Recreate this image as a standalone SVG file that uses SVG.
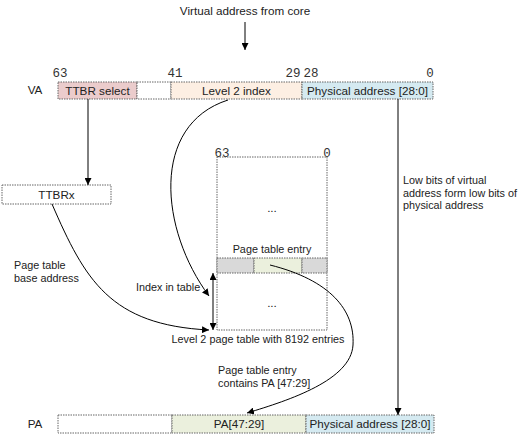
<svg xmlns="http://www.w3.org/2000/svg" width="526" height="437" viewBox="0 0 526 437">
<style>
text{font-family:"Liberation Sans",Arial,sans-serif;font-size:11.7px;fill:#222}
.sm{font-size:10.8px}
.num{font-family:"Liberation Mono","DejaVu Sans Mono",monospace;font-size:12.5px;fill:#333}
.box{stroke:#666;stroke-width:1;stroke-dasharray:1.5,1}
.ln{fill:none;stroke:#000;stroke-width:1}
</style>
<defs>
<marker id="ah" viewBox="0 0 10 10" refX="10" refY="5" markerWidth="7" markerHeight="7" orient="auto-start-reverse" markerUnits="userSpaceOnUse">
<path d="M0,0 L10,5 L0,10 z" fill="#000"/>
</marker>
</defs>
<rect width="526" height="437" fill="#fff"/>
<text x="245" y="15" text-anchor="middle">Virtual address from core</text>

<g id="va">
<text x="35" y="94" text-anchor="middle">VA</text>
<text class="num" x="60" y="77" text-anchor="middle">63</text>
<text class="num" x="175" y="77" text-anchor="middle">41</text>
<text class="num" x="293" y="77" text-anchor="middle">29</text>
<text class="num" x="311" y="77" text-anchor="middle">28</text>
<text class="num" x="430" y="77" text-anchor="middle">0</text>
<rect class="box" x="58" y="82" width="79" height="17" fill="#ebcccc"/>
<rect class="box" x="137" y="82" width="34" height="17" fill="#fff"/>
<rect class="box" x="171" y="82" width="131" height="17" fill="#fdefe3"/>
<rect class="box" x="302" y="82" width="131" height="17" fill="#d5eaf1"/>
<text x="97.5" y="95" text-anchor="middle">TTBR select</text>
<text x="236.5" y="95" text-anchor="middle">Level 2 index</text>
<text x="367.5" y="95" text-anchor="middle">Physical address [28:0]</text>
</g>

<g id="ttbrx">
<rect class="box" x="2" y="185" width="109" height="19" fill="#fff"/>
<text x="56.5" y="198.5" text-anchor="middle">TTBRx</text>
</g>

<g id="table">
<text class="num" x="222" y="157" text-anchor="middle">63</text>
<text class="num" x="327" y="157" text-anchor="middle">0</text>
<rect class="box" x="217" y="157" width="110" height="173" fill="#fff"/>
<text x="272" y="212" text-anchor="middle">...</text>
<text class="sm" x="272" y="253" text-anchor="middle">Page table entry</text>
<rect class="box" x="217" y="258" width="37" height="15" fill="#d9d9d9"/>
<rect class="box" x="254" y="258" width="48" height="15" fill="#ebf0dd"/>
<rect class="box" x="302" y="258" width="25" height="15" fill="#d9d9d9"/>
<text x="272" y="307" text-anchor="middle">...</text>
<text class="sm" x="258" y="343" text-anchor="middle">Level 2 page table with 8192 entries</text>
</g>

<g id="pa">
<text x="35" y="428" text-anchor="middle">PA</text>
<rect class="box" x="58" y="415" width="114" height="18" fill="#fff"/>
<rect class="box" x="172" y="415" width="134" height="18" fill="#ebf0dd"/>
<rect class="box" x="306" y="415" width="128" height="18" fill="#d5eaf1"/>
<text x="239" y="428" text-anchor="middle">PA[47:29]</text>
<text x="370" y="428" text-anchor="middle">Physical address [28:0]</text>
</g>

<g id="labels" class="sm">
<text class="sm" x="403" y="184">Low bits of virtual</text>
<text class="sm" x="403" y="197">address form low bits of</text>
<text class="sm" x="403" y="209">physical address</text>
<text class="sm" x="14" y="269">Page table</text>
<text class="sm" x="14" y="282">base address</text>
<text class="sm" x="136" y="291">Index in table</text>
<text class="sm" x="218" y="374">Page table entry</text>
<text class="sm" x="218" y="387">contains PA [47:29]</text>
</g>

<g id="connectors">
<line class="ln" x1="245" y1="22" x2="245" y2="50" marker-end="url(#ah)"/>
<line class="ln" x1="88" y1="99" x2="88" y2="185" marker-end="url(#ah)"/>
<line class="ln" x1="398" y1="99" x2="398" y2="415" marker-end="url(#ah)"/>
<line class="ln" x1="213" y1="273" x2="213" y2="330" marker-start="url(#ah)" marker-end="url(#ah)"/>
<path class="ln" d="M228,100 C150,125 160,230 209,296" marker-end="url(#ah)"/>
<path class="ln" d="M52,204 C85,280 110,325 209,330" marker-end="url(#ah)"/>
<path class="ln" d="M270,265 C330,280 355,310 353,345 C351,380 290,400 247,413" marker-end="url(#ah)"/>
</g>
</svg>
